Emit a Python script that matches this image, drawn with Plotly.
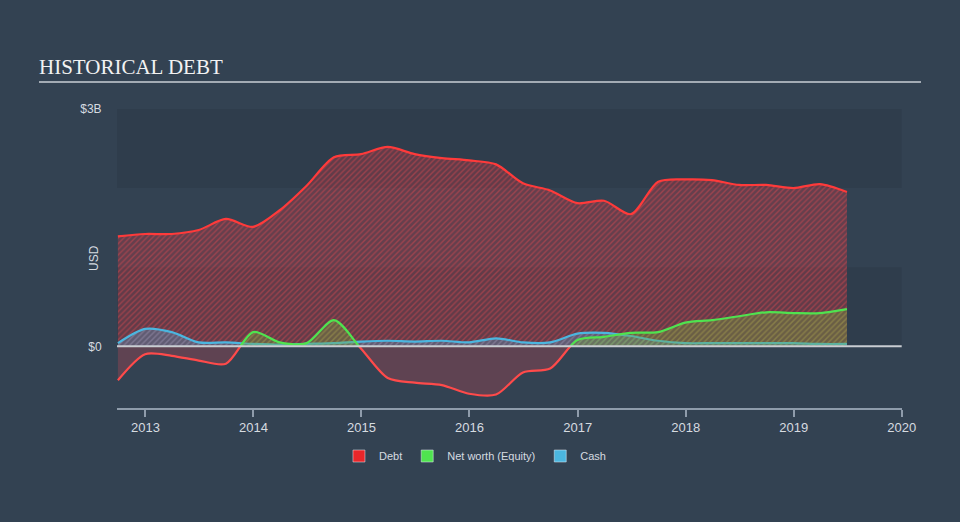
import plotly.graph_objects as go

quarters = ["2012-09-30", "2012-12-31", "2013-03-31", "2013-06-30", "2013-09-30", "2013-12-31",
            "2014-03-31", "2014-06-30", "2014-09-30", "2014-12-31", "2015-03-31", "2015-06-30",
            "2015-09-30", "2015-12-31", "2016-03-31", "2016-06-30", "2016-09-30", "2016-12-31",
            "2017-03-31", "2017-06-30", "2017-09-30", "2017-12-31", "2018-03-31", "2018-06-30",
            "2018-09-30", "2018-12-31", "2019-03-31", "2019-06-30"]

debt = [1.39, 1.42, 1.42, 1.47, 1.61, 1.51, 1.72, 2.03, 2.39, 2.43, 2.52, 2.43, 2.38, 2.35,
        2.30, 2.06, 1.97, 1.81, 1.84, 1.67, 2.08, 2.11, 2.10, 2.04, 2.04, 2.00, 2.05, 1.95]

equity = [-0.43, -0.10, -0.12, -0.18, -0.22, 0.18, 0.05, 0.04, 0.33, -0.03, -0.40, -0.46,
          -0.49, -0.60, -0.61, -0.33, -0.28, 0.08, 0.12, 0.17, 0.18, 0.30, 0.33, 0.38,
          0.43, 0.42, 0.42, 0.47]

cash = [0.04, 0.22, 0.18, 0.05, 0.05, 0.03, 0.02, 0.03, 0.04, 0.06, 0.07, 0.06, 0.07, 0.05,
        0.10, 0.05, 0.05, 0.16, 0.17, 0.13, 0.07, 0.04, 0.04, 0.04, 0.04, 0.04, 0.03, 0.03]

year_ticks = ["2013-01-01", "2014-01-01", "2015-01-01", "2016-01-01", "2017-01-01",
              "2018-01-01", "2019-01-01", "2020-01-01"]
year_labels = ["2013", "2014", "2015", "2016", "2017", "2018", "2019", "2020"]

y_min, y_max = -0.78, 3.0
zero_frac = -y_min / (y_max - y_min)
x_range = ["2012-09-27", "2020-01-02"]

RED = "#ff3a3a"
GREEN = "#4fe34f"
BLUE = "#4bb6df"
BG = "#334252"
TXT = "#d6dbe0"

fig = go.Figure()

# Debt
fig.add_trace(go.Scatter(
    x=quarters, y=debt, mode="lines", line=dict(color=RED, width=2.2, shape="spline", smoothing=0.8),
    fill="tozeroy", fillcolor="rgba(205,55,65,0.32)",
    fillpattern=dict(shape="/", fgcolor="rgba(240,75,80,0.8)", size=4, solidity=0.35, fillmode="overlay"),
    showlegend=False, hoverinfo="skip", xaxis="x", yaxis="y"))

# Cash
fig.add_trace(go.Scatter(
    x=quarters, y=cash, mode="lines", line=dict(color=BLUE, width=2.2, shape="spline", smoothing=0.8),
    fill="tozeroy", fillcolor="rgba(90,150,190,0.35)",
    fillpattern=dict(shape="/", fgcolor="rgba(100,170,210,0.6)", size=4, solidity=0.35, fillmode="overlay"),
    showlegend=False, hoverinfo="skip", xaxis="x", yaxis="y"))

# Equity positive part (clipped by y2 domain)
fig.add_trace(go.Scatter(
    x=quarters, y=equity, mode="lines", line=dict(color=GREEN, width=2.2, shape="spline", smoothing=0.8),
    fill="tozeroy", fillcolor="rgba(120,160,60,0.35)",
    fillpattern=dict(shape="/", fgcolor="rgba(110,200,80,0.55)", size=4, solidity=0.35, fillmode="overlay"),
    showlegend=False, hoverinfo="skip", xaxis="x", yaxis="y2"))

# Equity negative part (clipped by y3 domain)
fig.add_trace(go.Scatter(
    x=quarters, y=equity, mode="lines", line=dict(color="#ff4a4a", width=2.2, shape="spline", smoothing=0.8),
    fill="tozeroy", fillcolor="rgba(224,74,86,0.26)",
    showlegend=False, hoverinfo="skip", xaxis="x", yaxis="y3"))

# Legend entries
for name, col in [("Debt", "#e8262a"), ("Net worth (Equity)", "#4fe34f"), ("Cash", "#4bb6df")]:
    fig.add_trace(go.Bar(x=[None], y=[None], name=name, marker=dict(color=col), showlegend=True,
                         xaxis="x", yaxis="y"))

shapes = [
    dict(type="rect", xref="x", yref="y", x0=x_range[0], x1="2020-01-01", y0=2, y1=3,
         fillcolor="rgba(0,0,0,0.07)", line=dict(width=0), layer="below"),
    dict(type="rect", xref="x", yref="y", x0=x_range[0], x1="2020-01-01", y0=0, y1=1,
         fillcolor="rgba(0,0,0,0.07)", line=dict(width=0), layer="below"),
    dict(type="line", xref="x", yref="y", x0=x_range[0], x1="2020-01-01", y0=0, y1=0,
         line=dict(color="#c9cdd2", width=2), layer="above"),
    dict(type="line", xref="paper", yref="paper", x0=(39 - 117) / 785, x1=(921 - 117) / 785,
         y0=(408 - 82) / 299, y1=(408 - 82) / 299, line=dict(color="#a3abb4", width=2)),
]

fig.update_layout(
    width=960, height=522,
    margin=dict(l=117, r=58, t=109, b=114),
    paper_bgcolor=BG, plot_bgcolor="rgba(0,0,0,0)",
    font=dict(family="Liberation Sans, Arial, sans-serif", color=TXT, size=13),
    title=dict(text="HISTORICAL DEBT", x=39 / 960, xanchor="left", y=1 - 67 / 522, yanchor="middle",
               xref="container", yref="container",
               font=dict(family="Liberation Serif, Times New Roman, serif", size=21, color="#f2f2f2")),
    xaxis=dict(type="date", range=x_range, tickvals=year_ticks, ticktext=year_labels,
               showgrid=False, zeroline=False, showline=True, linecolor="#8f9cab", linewidth=1.5,
               ticks="outside", ticklen=7, tickcolor="#8f9cab", tickwidth=1.5,
               tickfont=dict(size=13, color=TXT), anchor="y"),
    yaxis=dict(range=[y_min, y_max], domain=[0, 1], tickvals=[0, 3], ticktext=["$0", "$3B"],
               showgrid=False, zeroline=False, showline=False, ticks="outside", ticklen=12,
               tickcolor="rgba(0,0,0,0)", tickfont=dict(size=12, color=TXT)),
    yaxis2=dict(range=[0, y_max], domain=[zero_frac, 1], visible=False, anchor="x",
                showgrid=False, zeroline=False),
    yaxis3=dict(range=[y_min, 0], domain=[0, zero_frac], visible=False, anchor="x",
                showgrid=False, zeroline=False),
    shapes=shapes,
    annotations=[dict(text="USD", x=(85 - 117) / 785, y=(408 - 258) / 299, xref="paper", yref="paper",
                      showarrow=False, textangle=-90, font=dict(size=12, color=TXT))],
    legend=dict(orientation="h", x=0.456, xanchor="center", y=(408 - 456) / 299, yanchor="middle",
                font=dict(size=11, color=TXT), bgcolor="rgba(0,0,0,0)"),
    showlegend=True,
)

fig.write_html("out.html")
